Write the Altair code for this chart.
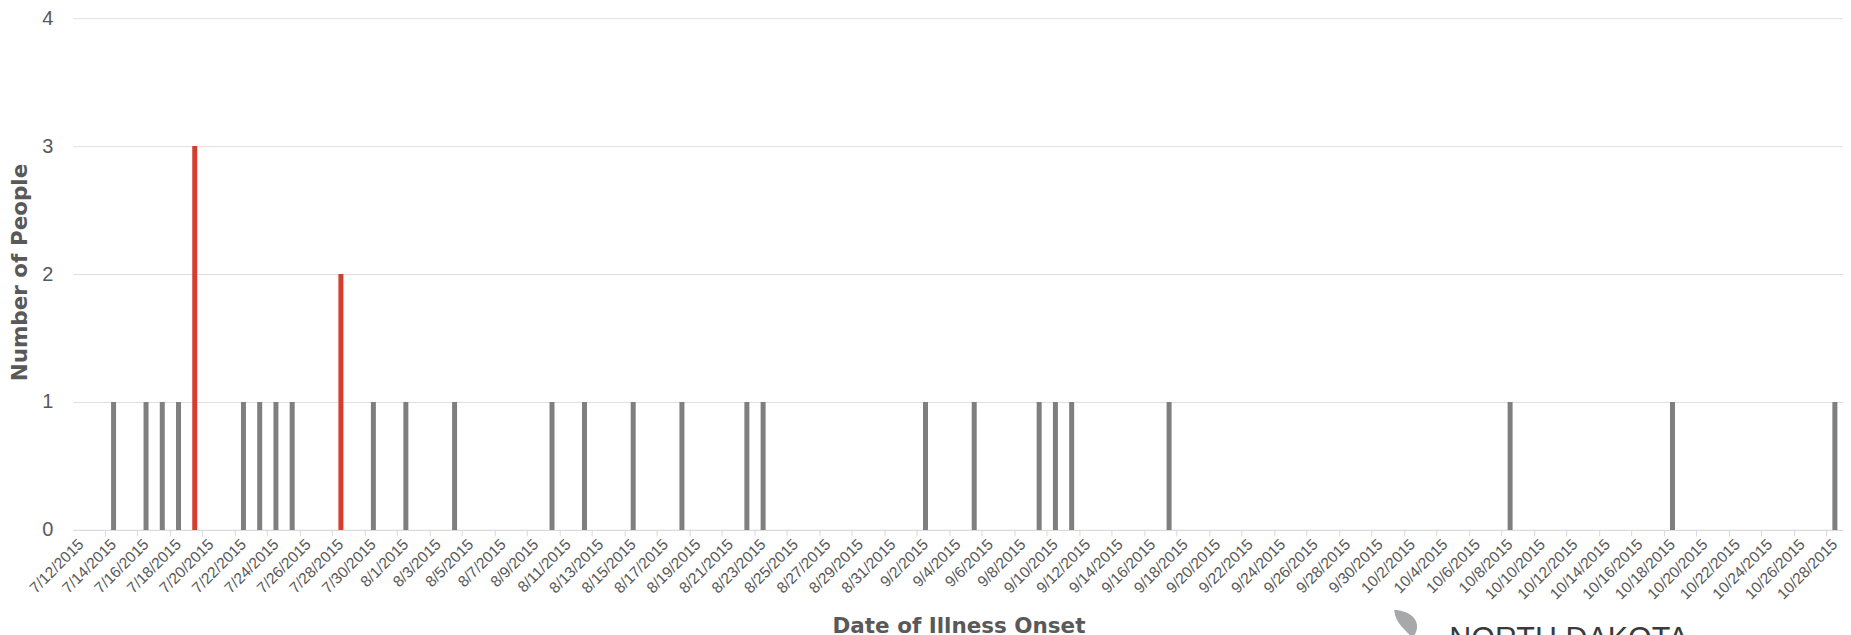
import altair as alt
import pandas as pd

# Category axis: every day from 7/12/2015 to 10/28/2015
all_dates = [f"{d.month}/{d.day}/{d.year}" for d in pd.date_range("2015-07-12", "2015-10-28", freq="D")]
tick_dates = all_dates[::2]

# Days with cases (others are zero)
onset_dates = ["7/14/2015", "7/16/2015", "7/17/2015", "7/18/2015", "7/19/2015",
               "7/22/2015", "7/23/2015", "7/24/2015", "7/25/2015", "7/28/2015",
               "7/30/2015", "8/1/2015", "8/4/2015", "8/10/2015", "8/12/2015",
               "8/15/2015", "8/18/2015", "8/22/2015", "8/23/2015", "9/2/2015",
               "9/5/2015", "9/9/2015", "9/10/2015", "9/11/2015", "9/17/2015",
               "10/8/2015", "10/18/2015", "10/28/2015"]
cases = [1, 1, 1, 1, 3,
         1, 1, 1, 1, 2,
         1, 1, 1, 1, 1,
         1, 1, 1, 1, 1,
         1, 1, 1, 1, 1,
         1, 1, 1]
groups = ["other"] * 4 + ["highlight"] + ["other"] * 4 + ["highlight"] + ["other"] * 18

df = pd.DataFrame({"date": onset_dates, "people": cases, "group": groups})
ticks_df = pd.DataFrame({"date": tick_dates})

TXT = "#595959"
xscale = alt.Scale(domain=all_dates, paddingInner=0, paddingOuter=0)

bars = alt.Chart(df).mark_bar(size=5).encode(
    x=alt.X("date:N", sort=all_dates, scale=xscale,
            axis=alt.Axis(values=tick_dates, labels=False,
                          tickSize=6, tickColor="#d9d9d9", bandPosition=0,
                          domainColor="#d9d9d9", grid=False,
                          title="Date of Illness Onset", titleFont="DejaVu Sans",
                          titleFontSize=21.5, titleFontWeight="bold", titleColor=TXT,
                          titleX=886, titleY=97, titleAlign="center",
                          titleBaseline="middle")),
    y=alt.Y("people:Q",
            scale=alt.Scale(domain=[0, 4], nice=False),
            axis=alt.Axis(values=[0, 1, 2, 3, 4], format="d", domain=False, ticks=False,
                          labelFontSize=20, labelColor=TXT, labelFont="Liberation Sans",
                          labelPadding=20, gridColor="#e0e0e0",
                          title="Number of People", titleFont="DejaVu Sans",
                          titleFontSize=21.5, titleFontWeight="bold", titleColor=TXT,
                          titleX=-52, titleY=254, titleAlign="center",
                          titleBaseline="middle", titleAngle=270)),
    color=alt.Color("group:N",
                    scale=alt.Scale(domain=["other", "highlight"], range=["#7f7f7f", "#d63d2e"]),
                    legend=None),
)

tick_labels = alt.Chart(ticks_df).mark_text(
    angle=315, align="right", baseline="middle", fontSize=15.5,
    font="Liberation Sans", color=TXT
).encode(x=alt.X("date:N", sort=all_dates, scale=xscale),
         y=alt.value(524), text="date:N")

logo_df = pd.DataFrame({"t": ["NORTH DAKOTA"]})
logo = alt.Chart(logo_df).mark_text(
    align="left", baseline="alphabetic", fontSize=30.5, font="Liberation Sans", color="#3a3a3a"
).encode(text="t:N", x=alt.value(1377), y=alt.value(631))

leaf = alt.Chart(logo_df).mark_point(
    shape="M -1 -1 C 0.6 -0.9 1 0.2 0.3 1 C -0.2 0.4 -0.9 0 -1 -1 Z",
    size=800, filled=True, opacity=1, color="#a6a8ab", strokeWidth=0
).encode(x=alt.value(1336), y=alt.value(606))

chart = alt.layer(bars, tick_labels, leaf, logo).properties(
    width=1771, height=512,
    autosize=alt.AutoSizeParams(type="none"),
    padding={"left": 65, "top": 10, "right": 0, "bottom": 120},
).configure_view(stroke=None)

chart.save("out.html", embed_options={"renderer": "svg", "actions": False})
